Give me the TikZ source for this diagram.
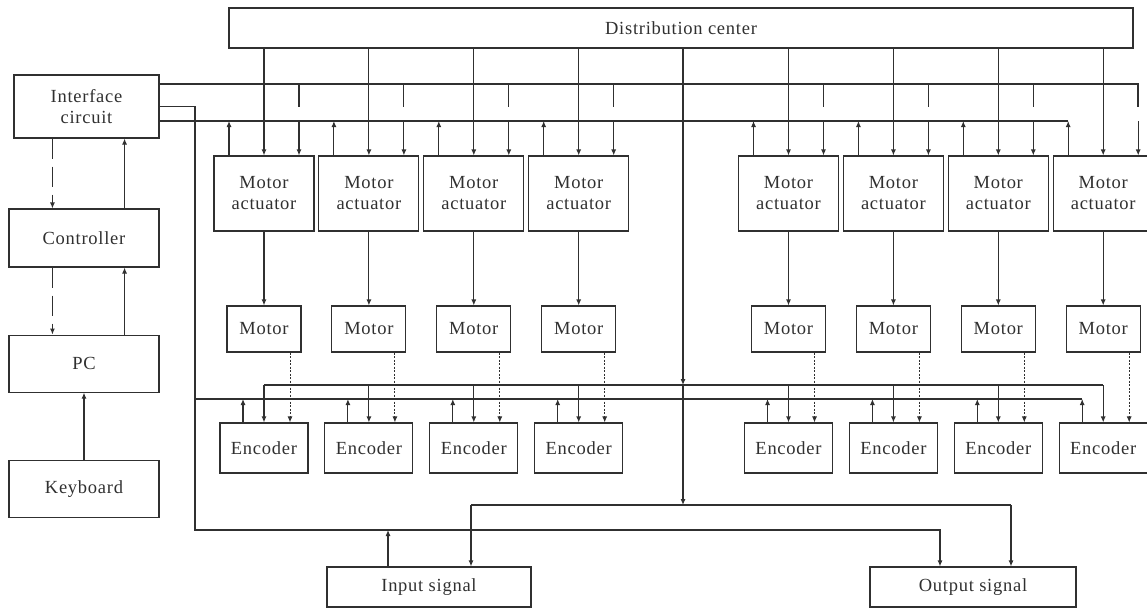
\documentclass[tikz,border=0pt]{standalone}
\usepackage{fontspec}
\setmainfont{Liberation Serif}[LetterSpace=4]
\usetikzlibrary{arrows.meta,positioning}
\definecolor{Ink}{HTML}{303030}

\begin{document}
\begin{tikzpicture}[x=1pt,y=-1pt,node distance=67pt,
    blk/.style={draw=Ink,line width=1.1pt,align=center,inner sep=0pt,text=Ink,font=\fontsize{18.5}{21}\selectfont},
    ln/.style={draw=Ink,line width=1.1pt},
    arr/.style={ln,-{Latex[length=6pt,width=5pt]}},
    dsh/.style={arr,dash pattern=on 20pt off 8pt},
    dtd/.style={arr,line width=1pt,dash pattern=on 2pt off 1.5pt}]
  \useasboundingbox (0,0) rectangle (1147,615);
  % left column
  \node[blk,minimum width=145pt,minimum height=63pt] (ifc) at (86.5,106.5) {Interface\\circuit};
  \node[blk,minimum width=150pt,minimum height=58pt] (ctl) at (84,238) {Controller};
  \node[blk,minimum width=150pt,minimum height=57pt,below=of ctl] (pc) {PC};
  \node[blk,minimum width=150pt,minimum height=57pt,below=of pc] (kbd) {Keyboard};
  \node[blk,minimum width=904pt,minimum height=40pt] (dc) at (681,28) {Distribution center};
  \node[blk,minimum width=204pt,minimum height=40pt] (in) at (429,587) {Input signal};
  \node[blk,minimum width=206pt,minimum height=40pt] (out) at (973,587) {Output signal};
  % bus junctions
  \coordinate (bA) at ([yshift=22.5pt]ifc.east);
  \coordinate (bC) at (ifc.east);
  \coordinate (bB) at ([yshift=-14.5pt]ifc.east);
  \coordinate (cL) at (195,530);
  \coordinate (eB) at (195,399);
  \coordinate (eA) at (683,385);
  \coordinate (sD) at (471,505);
  \coordinate (sE) at (1011,505);
  \coordinate (aEnd) at (1138,107);
  % drive channels
  \foreach \k in {0,1,2,3,5,6,7,8}{
    \pgfmathsetmacro\cx{264+104.9*\k}
    \node[blk,minimum width=100pt,minimum height=75pt] (act\k) at (\cx,193.5) {Motor\\actuator};
    \node[blk,minimum width=74pt,minimum height=46pt] (mot\k) at (\cx,329) {Motor};
    \node[blk,minimum width=88pt,minimum height=50pt] (enc\k) at (\cx,448) {Encoder};
    \draw[arr] (dc.south -| act\k.north) -- (act\k.north);
    \draw[arr] ([xshift=-35pt]act\k.north) -- ([xshift=-35pt]act\k.north |- bB);
    \draw[ln] ([xshift=35pt]act\k.north |- bA) -- ([xshift=35pt]act\k.north |- aEnd);
    \draw[arr] ([xshift=35pt]act\k.north |- bB) -- ([xshift=35pt]act\k.north);
    \draw[arr] (act\k.south) -- (mot\k.north);
    \draw[dtd] ([xshift=26pt]mot\k.south) -- ([xshift=26pt]enc\k.north);
    \draw[arr] (enc\k.north |- eA) -- (enc\k.north);
    \draw[arr] ([xshift=-21pt]enc\k.north) -- ([xshift=-21pt]enc\k.north |- eB);
  }
  % buses
  \draw[ln] (bA) -| (aEnd);
  \draw[ln] (bB) -- ([xshift=-35pt]act8.north |- bB);
  \draw[arr] (bC) -| (cL) -| ([xshift=-33pt]out.north);
  \draw[ln] (eB) -- ([xshift=-21pt]enc8.north |- eB);
  \draw[ln] (enc0.north |- eA) -- (enc8.north |- eA);
  \draw[arr] (dc.south -| eA) -- (eA);
  \draw[arr] (eA) -- (eA |- sD);
  \draw[ln] (sD) -- (sE);
  \draw[arr] (sD) -- (sD |- in.north);
  \draw[arr] (sE) -- (sE |- out.north);
  \draw[arr] ([xshift=-41pt]in.north) -- ([xshift=-41pt]in.north |- cL);
  % control chain
  \draw[dsh] ([xshift=44pt]ctl.west |- ifc.south) -- ([xshift=44pt]ctl.north west);
  \draw[arr] ([xshift=-35pt]ctl.north east) -- ([xshift=-35pt]ctl.north east |- ifc.south);
  \draw[dsh] ([xshift=44pt]ctl.south west) -- ([xshift=44pt]pc.north west);
  \draw[arr] ([xshift=-35pt]pc.north east) -- ([xshift=-35pt]ctl.south east);
  \draw[arr] (kbd) -- (pc);
\end{tikzpicture}
\end{document}
